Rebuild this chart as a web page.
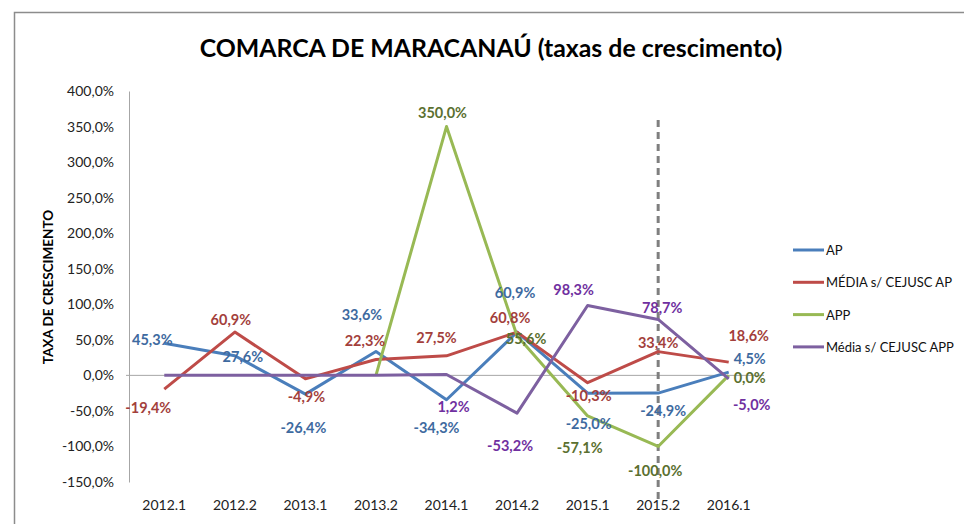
<!DOCTYPE html>
<html>
<head>
<meta charset="utf-8">
<script src="https://cdn.jsdelivr.net/npm/d3@7"></script>
<style>
  body { margin: 0; background: #fff; }
  svg text { font-family: Lato, 'Open Sans', sans-serif; }
</style>
</head>
<body>
<div id="chart"></div>
<script>
const periods = ['2012.1', '2012.2', '2013.1', '2013.2', '2014.1', '2014.2', '2015.1', '2015.2', '2016.1']
const yTicks = [-150, -100, -50, 0, 50, 100, 150, 200, 250, 300, 350, 400]

const ap = [45.3, 27.6, -26.4, 33.6, -34.3, 60.9, -25.0, -24.9, 4.5]
const mediaAp = [-19.4, 60.9, -4.9, 22.3, 27.5, 60.8, -10.3, 33.4, 18.6]
const app = [null, null, null, 0, 350.0, 55.6, -57.1, -100.0, 0.0]
const mediaApp = [0, 0, 0, 0, 1.2, -53.2, 98.3, 78.7, -5.0]

const seriesNames = ['AP', 'MÉDIA s/ CEJUSC AP', 'APP', 'Média s/ CEJUSC APP']
const seriesValues = [ap, mediaAp, app, mediaApp]
const lineColors = ['#4a7ebb', '#be4b48', '#98b954', '#7d60a0']
const labelColors = ['#3e6aa0', '#a33f3c', '#5b7030', '#7030a0']
// which points get a data label (first points of APP / Média APP have none)
const showLabel = [
  [1, 1, 1, 1, 1, 1, 1, 1, 1],
  [1, 1, 1, 1, 1, 1, 1, 1, 1],
  [0, 0, 0, 0, 1, 1, 1, 1, 1],
  [0, 0, 0, 0, 1, 1, 1, 1, 1]
]
// label offsets from the point (px)
const labelOffsets = [
  [[-12, -4], [8, 1], [-2, 33], [-14, -37], [-10, 28], [-2, -40], [1, 30], [5, 17], [21, -14]],
  [[-16, 18], [-4, -13], [1, 18], [-11, -19], [-10, -18], [-7, -15], [1, 13], [0, -9], [20, -27]],
  [null, null, null, null, [-4, -14], [9, 3], [-8, 32], [-3, 24], [21, 2]],
  [null, null, null, null, [7, 32], [-7, 32], [-14, -16], [4, -12], [23, 26]]
]

const width = 964
const height = 524
const plot = { left: 129, right: 764, top: 91, bottom: 482 }

const svg = d3
  .select('#chart')
  .append('svg')
  .attr('width', width)
  .attr('height', height)

// outer frame
svg
  .append('rect')
  .attr('x', 14.5)
  .attr('y', 12.5)
  .attr('width', 1000)
  .attr('height', 600)
  .attr('fill', 'none')
  .attr('stroke', '#8c8c8c')
  .attr('stroke-width', 1.5)

const fmt = v => v.toFixed(1).replace('.', ',') + '%'

const xPositionScale = d3
  .scalePoint()
  .domain(periods)
  .range([plot.left, plot.right])
  .padding(0.5)

const yPositionScale = d3
  .scaleLinear()
  .domain([-150, 400])
  .range([plot.bottom, plot.top])

// title
const title = svg
  .append('text')
  .attr('x', 491)
  .attr('y', 57)
  .attr('text-anchor', 'middle')
  .attr('font-weight', 'bold')
  .attr('font-size', 28)
  .attr('fill', '#000')
  .text('COMARCA DE MARACANAÚ (taxas de crescimento)')
const tw = title.node().getComputedTextLength()
title.attr('font-size', 28 * 583 / tw)

// y axis
const y_axis = d3
  .axisLeft(yPositionScale)
  .tickValues(yTicks)
  .tickFormat(fmt)
  .tickSize(0)
  .tickPadding(15)
svg
  .append('g')
  .attr('class', 'axis y-axis')
  .attr('transform', 'translate(' + plot.left + ',0)')
  .call(y_axis)
svg.selectAll('.y-axis path').attr('stroke', '#a6a6a6').attr('stroke-width', 1)
svg.selectAll('.y-axis text').attr('font-size', 14).attr('fill', '#222')

// zero line with category axis labels at the bottom
svg
  .append('line')
  .attr('x1', plot.left - 3)
  .attr('x2', plot.right)
  .attr('y1', yPositionScale(0))
  .attr('y2', yPositionScale(0))
  .attr('stroke', '#a6a6a6')
  .attr('stroke-width', 1)

svg
  .append('g')
  .selectAll('text')
  .data(periods)
  .enter()
  .append('text')
  .attr('x', d => xPositionScale(d))
  .attr('y', 510)
  .attr('text-anchor', 'middle')
  .attr('font-size', 14)
  .attr('fill', '#222')
  .text(d => d)

// y axis title
svg
  .append('text')
  .attr('transform', 'translate(53,287) rotate(-90)')
  .attr('text-anchor', 'middle')
  .attr('font-weight', 'bold')
  .attr('font-size', 13.5)
  .attr('fill', '#000')
  .text('TAXA DE CRESCIMENTO')

// dashed marker at 2015.2
svg
  .append('line')
  .attr('x1', xPositionScale('2015.2'))
  .attr('x2', xPositionScale('2015.2'))
  .attr('y1', 120)
  .attr('y2', 504)
  .attr('stroke', '#7f7f7f')
  .attr('stroke-width', 3)
  .attr('stroke-dasharray', '7,5')

// lines
const line = d3
  .line()
  .defined(d => d.v !== null)
  .x(d => xPositionScale(d.p))
  .y(d => yPositionScale(d.v))

seriesValues.forEach(function(vals, i) {
  const pts = vals.map((v, j) => ({ p: periods[j], v: v }))
  svg
    .append('path')
    .datum(pts)
    .attr('d', line)
    .attr('fill', 'none')
    .attr('stroke', lineColors[i])
    .attr('stroke-width', 3)
    .attr('stroke-linejoin', 'round')
})

// data labels
seriesValues.forEach(function(vals, i) {
  const pts = vals
    .map((v, j) => ({ p: periods[j], v: v, j: j }))
    .filter(d => d.v !== null && showLabel[i][d.j])
  svg
    .append('g')
    .selectAll('text')
    .data(pts)
    .enter()
    .append('text')
    .attr('x', d => xPositionScale(d.p) + labelOffsets[i][d.j][0])
    .attr('y', d => yPositionScale(d.v) + labelOffsets[i][d.j][1])
    .attr('text-anchor', 'middle')
    .attr('dominant-baseline', 'central')
    .attr('font-size', 14.5)
    .attr('font-weight', 'bold')
    .attr('fill', labelColors[i])
    .text(d => fmt(d.v))
})

// legend
const legend = svg
  .append('g')
  .selectAll('g')
  .data(seriesNames)
  .enter()
  .append('g')
  .attr('transform', (d, i) => 'translate(793,' + (250 + i * 32.3) + ')')
legend
  .append('line')
  .attr('x1', 0)
  .attr('x2', 31)
  .attr('stroke', (d, i) => lineColors[i])
  .attr('stroke-width', 3)
const legendText = legend
  .append('text')
  .attr('x', 33)
  .attr('dominant-baseline', 'central')
  .attr('font-size', 14)
  .attr('fill', '#111')
  .text(d => d)
// shrink legend text so the longest entry ends where it does in the original
let maxW = 0
legendText.each(function() {
  maxW = Math.max(maxW, this.getComputedTextLength())
})
legendText.attr('font-size', Math.min(14, 14 * 128 / maxW))
</script>
</body>
</html>
